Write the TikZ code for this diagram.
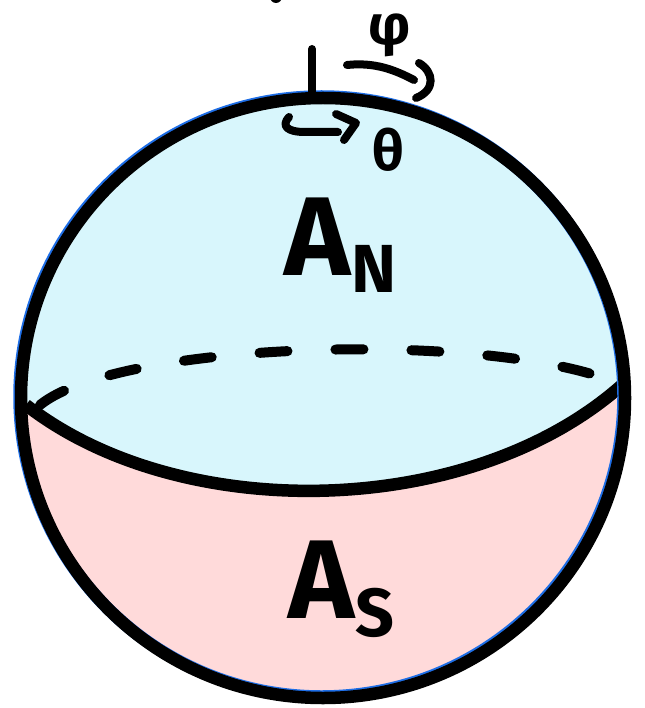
\documentclass[tikz,border=0pt]{standalone}
\usepackage{fontspec}
\setmainfont{Fira Sans}
\usepackage{tikz}
\usetikzlibrary{positioning, calc}
\definecolor{northcyan}{RGB}{216, 246, 252}
\definecolor{southpink}{RGB}{255, 218, 218}
\definecolor{rimblue}{RGB}{30, 110, 230}

\begin{document}
\begin{tikzpicture}[x=1pt, y=-1pt,
    ink/.style={line width=8pt, line cap=round, line join=round},
    rim/.style={line width=12.5pt},
    big/.style={font=\fontsize{112}{112}\selectfont\bfseries, inner sep=0pt},
    small/.style={font=\fontsize{68}{68}\selectfont\bfseries, inner sep=0pt},
    greek/.style={font=\fontsize{56}{56}\selectfont\bfseries, inner sep=0pt}]
\useasboundingbox (0,0) rectangle (644,708);

% Sphere fill: south below, north above the front equator
\fill[southpink] (323,398) ellipse (302 and 300);
\begin{scope}
  \clip (323,398) ellipse (302 and 300);
  \fill[northcyan] (0,405) -- (24,405) .. controls (180,525) and (470,520) .. (624,385)
      -- (644,385) -- (644,0) -- (0,0) -- cycle;
\end{scope}

% Equator: hidden back half dashed, front half solid
\coordinate (eqW) at (26,405);
\coordinate (eqE) at (622,385);
\draw[line width=10pt, line cap=round, dash pattern=on 28pt off 48pt]
    ([xshift=14pt]eqW) .. controls (120,340) and (500,330) .. (eqE);
\draw[rim] (eqW) .. controls (180,525) and (470,520) .. (eqE);

% Outline
\draw[rimblue, line width=12.5pt] (321.5,396.5) ellipse (302 and 300);
\draw[rim] (323,398) ellipse (302 and 300);

% Axis and rotations
\coordinate (pole) at (312,97);
\coordinate (axisTop) at (312,49);
\draw[ink] (pole) -- (axisTop);
\draw[ink] (347,65) .. controls (375,62) and (395,70) .. (414,80);
\draw[ink] (419,63) .. controls (434,72) and (436,90) .. (416,98);
\node[greek] (phi) at (390,35) {φ};

\draw[ink] (289,117) .. controls (281,126) and (287,132) .. (305,132) -- (338,132);
\draw[ink] (336,114) -- (356,123) -- (344,140);
\node[greek] (theta) at (388,150) {θ};

% Labels
\node[big] (AN) at (318,237) {A};
\node[small, anchor=north west] (N) at ([xshift=0pt, yshift=-8pt]AN.east) {N};
\node[big] (AS) at (322,580) {A};
\node[small, anchor=north west] (S) at ([xshift=0pt, yshift=-8pt]AS.east) {S};

% Cut-off mark at the top edge
\fill (276,-3) ellipse (6 and 6);

\end{tikzpicture}
\end{document}
